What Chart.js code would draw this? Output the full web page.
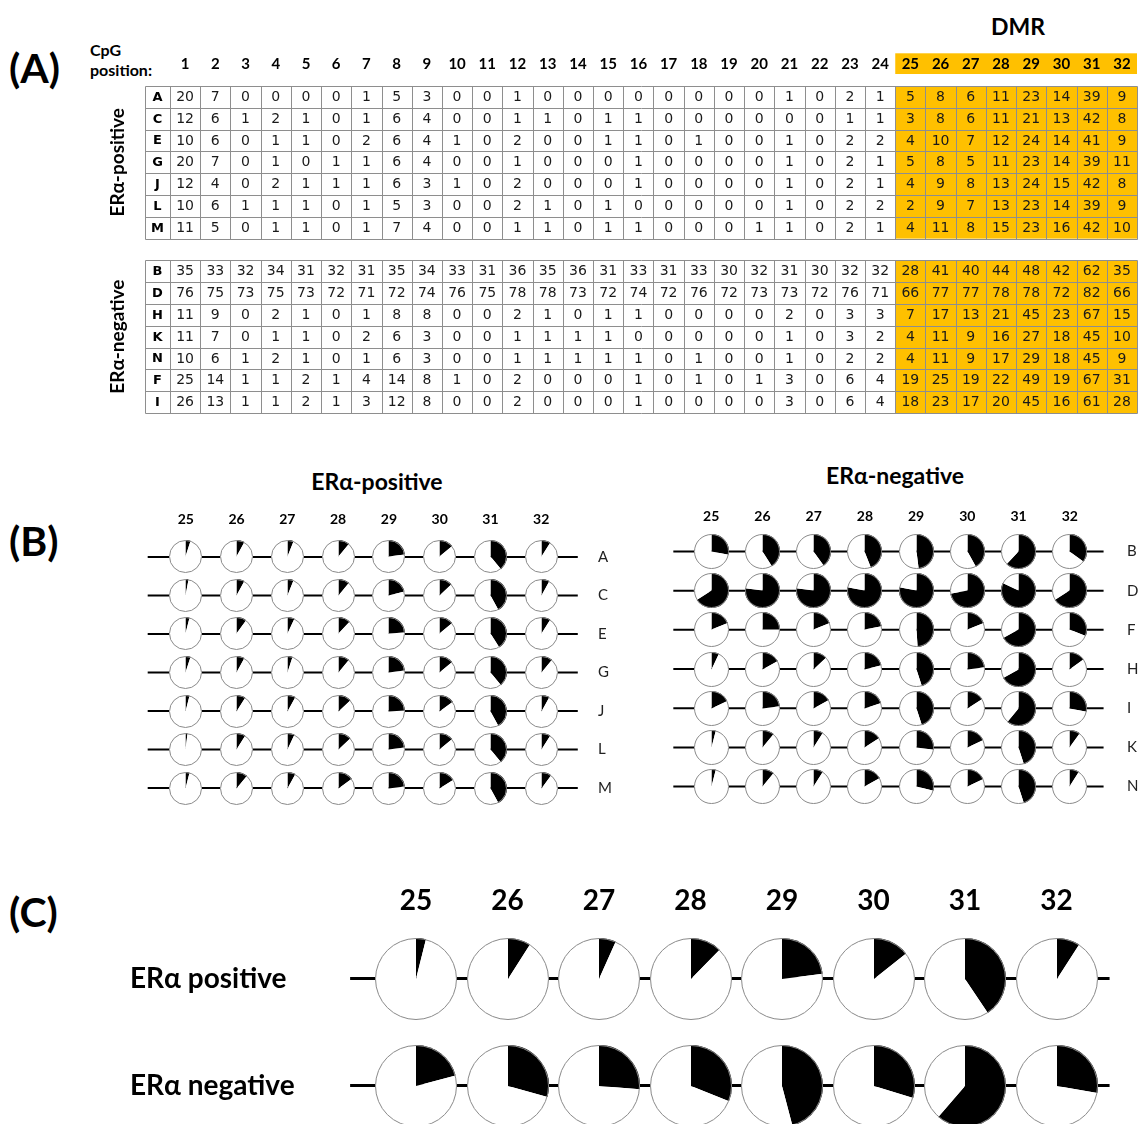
<!DOCTYPE html>
<html lang="en">
<head>
<meta charset="utf-8">
<title>CpG methylation of the DMR in ERα-positive and ERα-negative samples</title>
<script src="https://cdn.jsdelivr.net/npm/chart.js@4.4.1/dist/chart.umd.min.js"></script>
<style>
  html, body { margin: 0; padding: 0; background: #fff; }
  #figure { position: relative; width: 1138px; height: 1124px; overflow: hidden; background: #fff; }
  #figure canvas { position: absolute; }
  .txt { position: absolute; font-family: Lato, "Open Sans", sans-serif; font-weight: 700; color: #000; white-space: nowrap; line-height: 1; }
  .c { transform: translate(-50%, -50%); }
  .l { transform: translate(0, -50%); }
</style>
</head>
<body>
<div id="figure">
  <div class="txt l" style="left:9px;top:67px;font-size:41px;">(A)</div>
  <div class="txt l" style="left:90px;top:50px;font-size:16px;">CpG</div>
  <div class="txt l" style="left:90px;top:70px;font-size:16px;">position:</div>
  <div class="txt c" style="left:1018px;top:26px;font-size:23px;">DMR</div>
  <div class="txt l" style="left:9px;top:540px;font-size:41px;">(B)</div>
  <div class="txt c" style="left:377px;top:481px;font-size:23px;">ERα-positive</div>
  <div class="txt c" style="left:895px;top:475px;font-size:23px;">ERα-negative</div>
  <div class="txt l" style="left:9px;top:911px;font-size:41px;">(C)</div>
</div>
<script>
// ---------------- data ----------------
// CpG site numbers along the amplicon (table header)
const cpgLabels = ['1','2','3','4','5','6','7','8','9','10','11','12','13','14','15','16',
                   '17','18','19','20','21','22','23','24','25','26','27','28','29','30','31','32'];
// CpG sites of the differentially methylated region
const dmrLabels = ['25','26','27','28','29','30','31','32'];
const dmrFirstIndex = 24;   // column index of site 25

// per-sample methylation (%) at CpG 1..32
const sampleA = [20,7,0,0,0,0,1,5,3,0,0,1,0,0,0,0,0,0,0,0,1,0,2,1,5,8,6,11,23,14,39,9];
const sampleC = [12,6,1,2,1,0,1,6,4,0,0,1,1,0,1,1,0,0,0,0,0,0,1,1,3,8,6,11,21,13,42,8];
const sampleE = [10,6,0,1,1,0,2,6,4,1,0,2,0,0,1,1,0,1,0,0,1,0,2,2,4,10,7,12,24,14,41,9];
const sampleG = [20,7,0,1,0,1,1,6,4,0,0,1,0,0,0,1,0,0,0,0,1,0,2,1,5,8,5,11,23,14,39,11];
const sampleJ = [12,4,0,2,1,1,1,6,3,1,0,2,0,0,0,1,0,0,0,0,1,0,2,1,4,9,8,13,24,15,42,8];
const sampleL = [10,6,1,1,1,0,1,5,3,0,0,2,1,0,1,0,0,0,0,0,1,0,2,2,2,9,7,13,23,14,39,9];
const sampleM = [11,5,0,1,1,0,1,7,4,0,0,1,1,0,1,1,0,0,0,1,1,0,2,1,4,11,8,15,23,16,42,10];
const sampleB = [35,33,32,34,31,32,31,35,34,33,31,36,35,36,31,33,31,33,30,32,31,30,32,32,28,41,40,44,48,42,62,35];
const sampleD = [76,75,73,75,73,72,71,72,74,76,75,78,78,73,72,74,72,76,72,73,73,72,76,71,66,77,77,78,78,72,82,66];
const sampleH = [11,9,0,2,1,0,1,8,8,0,0,2,1,0,1,1,0,0,0,0,2,0,3,3,7,17,13,21,45,23,67,15];
const sampleK = [11,7,0,1,1,0,2,6,3,0,0,1,1,1,1,0,0,0,0,0,1,0,3,2,4,11,9,16,27,18,45,10];
const sampleN = [10,6,1,2,1,0,1,6,3,0,0,1,1,1,1,1,0,1,0,0,1,0,2,2,4,11,9,17,29,18,45,9];
const sampleF = [25,14,1,1,2,1,4,14,8,1,0,2,0,0,0,1,0,1,0,1,3,0,6,4,19,25,19,22,49,19,67,31];
const sampleI = [26,13,1,1,2,1,3,12,8,0,0,2,0,0,0,1,0,0,0,0,3,0,6,4,18,23,17,20,45,16,61,28];

// sample groups: table order and lollipop-panel order
const positiveTableOrder = ['A','C','E','G','J','L','M'];
const negativeTableOrder = ['B','D','H','K','N','F','I'];
const positivePanelOrder = ['A','C','E','G','J','L','M'];
const negativePanelOrder = ['B','D','F','H','I','K','N'];

// group means (%) over the DMR sites 25..32
const positiveMean = [3.9, 9.0, 6.7, 12.3, 23.0, 14.3, 40.6, 9.1];
const negativeMean = [20.9, 29.3, 26.3, 31.1, 45.9, 29.7, 61.3, 27.7];
const groupLabels = ['ERα positive', 'ERα negative'];

const samples = { A: sampleA, C: sampleC, E: sampleE, G: sampleG, J: sampleJ, L: sampleL, M: sampleM,
                  B: sampleB, D: sampleD, H: sampleH, K: sampleK, N: sampleN, F: sampleF, I: sampleI };

// ---------------- styling ----------------
const DMR_FILL = '#FFC000';
const GRID = '#8e8e8e';
const PIE_EDGE = '#8a8a8a';
const SANS = 'Lato, "Open Sans", sans-serif';
const CELL = '"DejaVu Sans", Verdana, sans-serif';

Chart.defaults.animation = false;
Chart.defaults.events = [];
Chart.defaults.plugins.legend.display = false;
Chart.defaults.plugins.tooltip.enabled = false;
Chart.defaults.color = '#000';

const fig = document.getElementById('figure');
function addCanvas(left, top, w, h) {
  const c = document.createElement('canvas');
  c.width = w; c.height = h;
  c.style.left = left + 'px'; c.style.top = top + 'px';
  c.style.width = w + 'px'; c.style.height = h + 'px';
  fig.appendChild(c);
  return c;
}

// ---------------- (A) methylation table ----------------
const labelColUnits = 25 / 30.22;          // width of the sample-letter column, in site columns
const tableBlocks = [
  { start: 0, names: positiveTableOrder, title: 'ERα-positive' },
  { start: 8, names: negativeTableOrder, title: 'ERα-negative' }
];

const tablePlugin = {
  id: 'cpgTable',
  afterDraw(chart) {
    const { ctx } = chart;
    const X = v => chart.scales.x.getPixelForValue(v);
    const Y = v => chart.scales.y.getPixelForValue(v);
    const nCols = cpgLabels.length;
    ctx.save();
    // DMR shading, header band and table bodies
    ctx.fillStyle = DMR_FILL;
    ctx.fillRect(X(dmrFirstIndex), Y(-1.5), X(nCols) - X(dmrFirstIndex), Y(-0.55) - Y(-1.5));
    tableBlocks.forEach(b => {
      ctx.fillRect(X(dmrFirstIndex), Y(b.start), X(nCols) - X(dmrFirstIndex), Y(b.start + b.names.length) - Y(b.start));
    });
    // cell borders
    ctx.strokeStyle = GRID; ctx.lineWidth = 1;
    ctx.beginPath();
    tableBlocks.forEach(b => {
      const y0 = Math.round(Y(b.start)) + 0.5, y1 = Math.round(Y(b.start + b.names.length)) + 0.5;
      for (let r = 0; r <= b.names.length; r++) {
        const yy = Math.round(Y(b.start + r)) + 0.5;
        ctx.moveTo(Math.round(X(-labelColUnits)) + 0.5, yy); ctx.lineTo(Math.round(X(nCols)) + 0.5, yy);
      }
      const xs = [-labelColUnits];
      for (let c = 0; c <= nCols; c++) xs.push(c);
      xs.forEach(v => { const xx = Math.round(X(v)) + 0.5; ctx.moveTo(xx, y0); ctx.lineTo(xx, y1); });
    });
    ctx.stroke();
    // header numbers
    ctx.fillStyle = '#000';
    ctx.textAlign = 'center'; ctx.textBaseline = 'middle';
    ctx.font = `bold 15px ${SANS}`;
    cpgLabels.forEach((t, c) => ctx.fillText(t, X(c + 0.5), Y(-1.02)));
    // cells
    tableBlocks.forEach(b => {
      b.names.forEach((name, r) => {
        const yc = Y(b.start + r + 0.5) + 0.5;
        ctx.font = `bold 13px ${CELL}`;
        ctx.fillStyle = '#000';
        ctx.fillText(name, X(-labelColUnits / 2), yc);
        ctx.font = `14px ${CELL}`;
        ctx.fillStyle = '#1a1a1a';
        samples[name].forEach((v, c) => ctx.fillText(String(v), X(c + 0.5), yc));
      });
      // rotated group label
      ctx.save();
      ctx.translate(118, (Y(b.start) + Y(b.start + b.names.length)) / 2);
      ctx.rotate(-Math.PI / 2);
      ctx.font = `bold 19px ${SANS}`;
      ctx.fillStyle = '#000';
      ctx.fillText(b.title, 0, 0);
      ctx.restore();
    });
    ctx.restore();
  }
};

(function drawTable() {
  const W = 1138, H = 430, top = 86, left = 145, rowH = 21.8, nRows = 15;
  const canvas = addCanvas(0, 0, W, H);
  new Chart(canvas, {
    type: 'scatter',
    data: { datasets: [{ data: [] }] },
    options: {
      responsive: false,
      layout: { padding: { left, top, right: 1, bottom: H - top - nRows * rowH } },
      scales: {
        x: { type: 'linear', display: false, min: -labelColUnits, max: cpgLabels.length },
        y: { type: 'linear', display: false, min: 0, max: nRows, reverse: true }
      }
    },
    plugins: [tablePlugin]
  });
})();

// ---------------- pies ----------------
const pieEdge = {
  id: 'pieEdge',
  afterDatasetsDraw(chart) {
    const arc = chart.getDatasetMeta(0).data[0];
    if (!arc) return;
    const { ctx } = chart;
    ctx.save();
    ctx.beginPath();
    ctx.arc(arc.x, arc.y, arc.outerRadius - 0.5, 0, Math.PI * 2);
    ctx.strokeStyle = PIE_EDGE; ctx.lineWidth = 1;
    ctx.stroke();
    ctx.restore();
  }
};

function makePie(cx, cy, radius, pct) {
  const S = Math.ceil(2 * radius + 4);
  const canvas = addCanvas(Math.round(cx - S / 2), Math.round(cy - S / 2), S, S);
  new Chart(canvas, {
    type: 'pie',
    data: {
      labels: ['methylated', 'unmethylated'],
      datasets: [{ data: [pct, 100 - pct], backgroundColor: ['#000', '#fff'], borderWidth: 0, hoverOffset: 0, offset: 0 }]
    },
    options: { responsive: false, layout: { padding: (S - 2 * radius) / 2 } },
    plugins: [pieEdge]
  });
}

// strand of CpG sites: a line per row with a pie at every DMR site
function strandPanel(cfg) {
  const nRows = cfg.rowLabels.length;
  const nCols = cfg.colLabels.length;
  const areaW = (nCols + 1) * cfg.colStep;
  const areaH = (nRows - 1 + cfg.a + cfg.b) * cfg.rowStep;
  const areaLeft = cfg.cx0 - cfg.colStep;
  const areaTop = cfg.cy0 - cfg.a * cfg.rowStep;
  const left = Math.round(cfg.side === 'right' ? areaLeft : areaLeft - cfg.axisW);
  const top = Math.round(areaTop - cfg.headerH);
  const W = Math.round(areaW + cfg.axisW), H = Math.round(areaH + cfg.headerH);
  const canvas = addCanvas(left, top, W, H);
  const tickPad = cfg.headerGap - cfg.a * cfg.rowStep - cfg.colFont.size * 0.6;
  const noPadding = s => { s.paddingTop = 0; s.paddingBottom = 0; s.paddingLeft = 0; s.paddingRight = 0; };
  const datasets = cfg.rowLabels.map((_, r) => ({
    data: [{ x: cfg.strandStart, y: r }, { x: cfg.strandEnd, y: r }],
    showLine: true, borderColor: '#000', borderWidth: cfg.lineWidth, pointRadius: 0
  }));
  const chart = new Chart(canvas, {
    type: 'scatter',
    data: { datasets },
    options: {
      responsive: false,
      layout: { padding: 0 },
      scales: {
        x: {
          type: 'linear', position: 'top', min: 0, max: nCols + 1,
          grid: { display: false, drawTicks: false }, border: { display: false },
          afterBuildTicks: s => { s.ticks = cfg.colLabels.map((_, i) => ({ value: i + 1 })); },
          afterFit: s => { s.height = cfg.headerH; noPadding(s); },
          ticks: { autoSkip: false, maxRotation: 0, padding: tickPad, font: cfg.colFont, color: '#000',
                   callback: (v, i) => cfg.colLabels[i] }
        },
        y: {
          type: 'linear', position: cfg.side, reverse: true, min: -cfg.a, max: nRows - 1 + cfg.b,
          grid: { display: false, drawTicks: false }, border: { display: false },
          afterBuildTicks: s => { s.ticks = cfg.rowLabels.map((_, i) => ({ value: i })); },
          afterFit: s => { s.width = cfg.axisW; noPadding(s); },
          ticks: { autoSkip: false, padding: cfg.rowPad, font: cfg.rowFont, color: cfg.rowColor,
                   crossAlign: cfg.rowAlign || 'near',
                   callback: (v, i) => cfg.rowLabels[i] }
        }
      }
    }
  });
  const xs = chart.scales.x, ys = chart.scales.y;
  cfg.values.forEach((rowVals, r) => rowVals.forEach((v, c) => {
    makePie(left + xs.getPixelForValue(c + 1), top + ys.getPixelForValue(r), cfg.radius, v);
  }));
}

// (B) individual samples
strandPanel({
  cx0: 186, cy0: 557, colStep: 50.75, rowStep: 38.5, a: 0.7, b: 0.7,
  side: 'right', axisW: 40, headerH: 24, headerGap: 37, rowPad: 6,
  colLabels: dmrLabels, rowLabels: positivePanelOrder,
  values: positivePanelOrder.map(n => samples[n].slice(dmrFirstIndex)),
  colFont: { family: SANS, weight: 'bold', size: 14 },
  rowFont: { family: SANS, size: 15 }, rowColor: '#222',
  radius: 16.5, lineWidth: 2, strandStart: 0.25, strandEnd: 8.72
});
strandPanel({
  cx0: 711, cy0: 552, colStep: 51.2, rowStep: 39.2, a: 0.6, b: 0.7,
  side: 'right', axisW: 30, headerH: 24, headerGap: 35, rowPad: 6,
  colLabels: dmrLabels, rowLabels: negativePanelOrder,
  values: negativePanelOrder.map(n => samples[n].slice(dmrFirstIndex)),
  colFont: { family: SANS, weight: 'bold', size: 14 },
  rowFont: { family: SANS, size: 15 }, rowColor: '#222',
  radius: 17.5, lineWidth: 2, strandStart: 0.26, strandEnd: 8.66
});

// (C) group means; group names sit flush left in the axis band
strandPanel({
  cx0: 416, cy0: 978, colStep: 91.5, rowStep: 107, a: 0.5, b: 0.5,
  side: 'left', axisW: 194.5, headerH: 60, headerGap: 78, rowPad: 36, rowAlign: 'far',
  colLabels: dmrLabels, rowLabels: groupLabels,
  values: [positiveMean, negativeMean],
  colFont: { family: SANS, weight: 'bold', size: 28 },
  rowFont: { family: SANS, weight: 'bold', size: 28 }, rowColor: '#000',
  radius: 41, lineWidth: 3, strandStart: 0.28, strandEnd: 8.58
});
</script>
</body>
</html>
